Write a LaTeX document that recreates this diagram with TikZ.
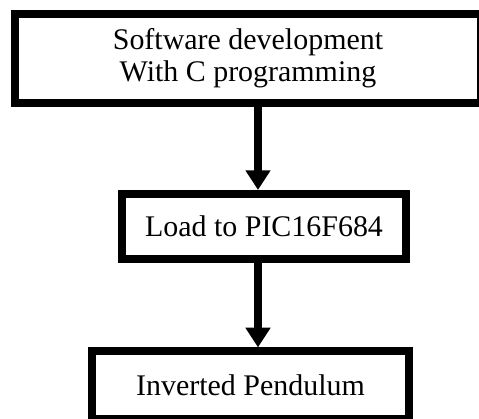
\documentclass[tikz,border=0pt]{standalone}
\usepackage{fontspec}
\setmainfont{Liberation Serif}
\usetikzlibrary{arrows.meta}

\begin{document}
\begin{tikzpicture}
  \tikzset{
    stepbox/.style={draw, line width=5.7pt, inner sep=0pt, align=center,
      font=\fontsize{21.3}{22.8}\selectfont},
    flow/.style={line width=6pt, -{Triangle[length=14pt,width=17pt]}}
  }
  \useasboundingbox (0,0) rectangle (11.975,10.475);

  \node[stepbox, minimum width=11.65cm, minimum height=2.225cm] (sw) at (6.2, 9.0125)
    {Software development\\With C programming};
  \node[stepbox, minimum width=7.1cm, minimum height=1.625cm] (load) at (6.6, 4.8125)
    {Load to PIC16F684};
  \node[stepbox, minimum width=7.925cm, minimum height=1.7cm] (pend) at (6.2625, 0.84)
    {Inverted Pendulum};

  % one shaft for both arrows
  \coordinate (axis) at (6.45, 0);

  \draw [flow] (sw.south -| axis) -- (load.north -| axis);
  \draw [flow] (load.south -| axis) -- (pend.north -| axis);

\end{tikzpicture}
\end{document}
